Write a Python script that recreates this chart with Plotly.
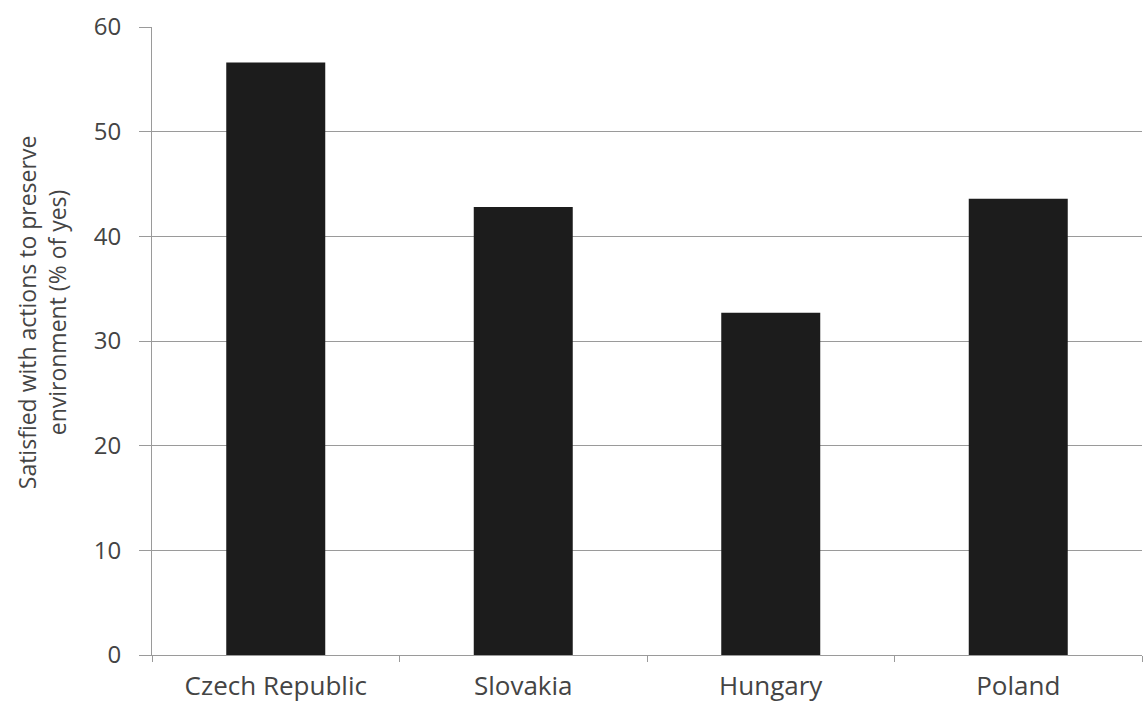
import plotly.graph_objects as go

countries = ["Czech Republic", "Slovakia", "Hungary", "Poland"]
satisfied = [56.6, 42.8, 32.7, 43.6]
y_ticks = [0, 10, 20, 30, 40, 50, 60]

grid = "#9a9a9a"
txt = "#444444"
font_family = "Open Sans, Liberation Sans, sans-serif"

fig = go.Figure(go.Bar(
    x=countries, y=satisfied,
    marker=dict(color="#1c1c1c", line=dict(width=0)),
    width=0.4,
))

fig.update_layout(
    width=1148, height=713,
    margin=dict(l=152, r=6, t=27, b=58),
    paper_bgcolor="white", plot_bgcolor="white",
    showlegend=False,
    font=dict(family=font_family, color=txt, size=24),
    xaxis=dict(
        showline=True, linecolor=grid, linewidth=1,
        ticks="outside", tickson="boundaries", ticklen=6, tickcolor=grid,
        tickfont=dict(size=26, color=txt),
        ticklabelstandoff=8,
        showgrid=False,
    ),
    yaxis=dict(
        range=[0, 60], tickvals=y_ticks,
        showgrid=True, gridcolor=grid, gridwidth=1,
        showline=True, linecolor=grid, linewidth=1,
        ticks="outside", ticklen=12, tickcolor=grid,
        tickfont=dict(size=24, color=txt),
        ticklabelstandoff=13,
        zeroline=False,
    ),
    annotations=[dict(
        text="Satisfied with actions to preserve<br>environment (% of yes)",
        textangle=-90, xref="paper", yref="paper",
        x=-0.111, y=0.546, xanchor="center", yanchor="middle",
        showarrow=False, font=dict(size=23, color=txt),
    )],
)

fig.write_html("out.html")
